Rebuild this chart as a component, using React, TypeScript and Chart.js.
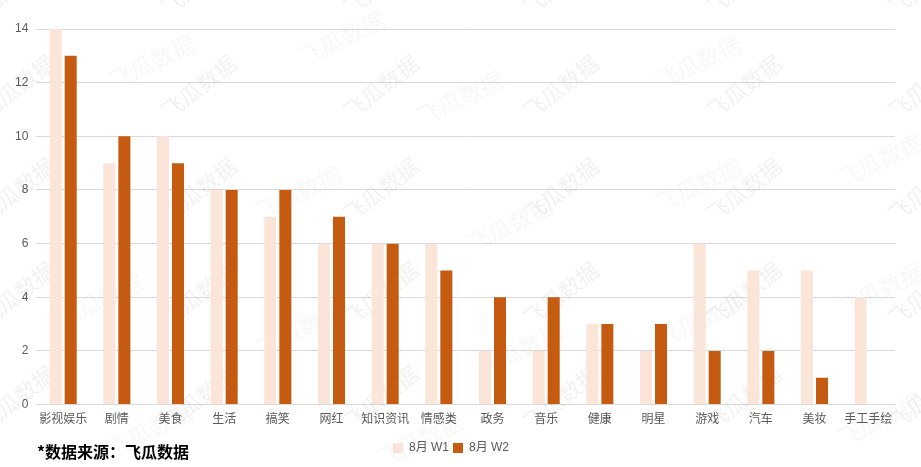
import React, { useEffect, useRef } from "react";
import { Chart, registerables } from "chart.js";

Chart.register(...registerables);

const categories = ["影视娱乐", "剧情", "美食", "生活", "搞笑", "网红", "知识资讯", "情感类", "政务", "音乐", "健康", "明星", "游戏", "汽车", "美妆", "手工手绘"];
const w1Values = [14, 9, 10, 8, 7, 6, 6, 6, 2, 2, 3, 2, 6, 5, 5, 4];
const w2Values = [13, 10, 9, 8, 8, 7, 6, 5, 4, 4, 3, 3, 2, 2, 1, 0];
const seriesNames = ["8月 W1", "8月 W2"];
const sourceText = "*数据来源：飞瓜数据";
const watermarkText = "飞瓜数据";

const FONT = "'Liberation Sans', Arial, 'Noto Sans CJK SC', sans-serif";

const watermarkPlugin = {
  id: "watermark",
  beforeDatasetsDraw(chart: any) {
    const ctx = chart.ctx as CanvasRenderingContext2D;
    ctx.save();
    ctx.textAlign = "center";
    ctx.textBaseline = "middle";
    ctx.font = `22px 'Noto Sans CJK SC', sans-serif`;
    ctx.fillStyle = "rgba(0,0,0,0.055)";
    const colsA = [17, 199, 381, 561, 744, 926];
    const rowsA = [-17, 87, 190, 294, 398];
    for (const x of colsA) {
      for (const y of rowsA) {
        ctx.save();
        ctx.translate(x, y);
        ctx.rotate(-0.66);
        ctx.fillText(watermarkText, 0, 0);
        ctx.restore();
      }
    }
    ctx.fillStyle = "rgba(0,0,0,0.03)";
    ctx.font = `23px 'Noto Sans CJK SC', sans-serif`;
    const ptsB = [[152, 62], [342, 38], [460, 98], [698, 62], [298, 193], [698, 185], [510, 225], [880, 160], [880, 290], [100, 300], [300, 330], [520, 350], [700, 320], [150, 430], [420, 440], [880, 420]];
    for (const [x, y] of ptsB) {
      ctx.save();
      ctx.translate(x, y);
      ctx.rotate(-0.45);
      ctx.fillText(watermarkText, 0, 0);
      ctx.restore();
    }
    ctx.restore();
  },
};

export default function App() {
  const canvasRef = useRef<HTMLCanvasElement | null>(null);

  useEffect(() => {
    document.body.style.margin = "0";
    const canvas = canvasRef.current;
    if (!canvas) return;
    const chart = new Chart(canvas, {
      type: "bar",
      data: {
        labels: categories,
        datasets: [
          {
            label: seriesNames[0],
            data: w1Values,
            backgroundColor: "#FAE5D8",
            barPercentage: 0.8,
            categoryPercentage: 0.56,
          },
          {
            label: seriesNames[1],
            data: w2Values,
            backgroundColor: "#C55A11",
            barPercentage: 0.8,
            categoryPercentage: 0.56,
          },
        ],
      },
      options: {
        animation: false,
        responsive: false,
        maintainAspectRatio: false,
        layout: { padding: { left: 7, right: 26, top: 29, bottom: 3 } },
        plugins: {
          legend: {
            position: "bottom",
            labels: {
              boxWidth: 10,
              boxHeight: 10,
              padding: 4,
              color: "#595959",
              font: { size: 12, family: FONT },
            },
          },
          tooltip: { enabled: false },
        },
        scales: {
          x: {
            grid: { display: false },
            border: { color: "#D9D9D9" },
            ticks: {
              color: "#595959",
              font: { size: 12, family: FONT },
              maxRotation: 0,
              autoSkip: false,
              padding: 0,
            },
            afterFit(scale: any) {
              scale.height += 11;
            },
          },
          y: {
            min: 0,
            max: 14,
            ticks: {
              stepSize: 2,
              color: "#595959",
              font: { size: 12, family: FONT },
              padding: 8,
            },
            grid: { color: "#D9D9D9", drawTicks: false },
            border: { display: false },
          },
        },
      },
      plugins: [watermarkPlugin],
    });
    return () => chart.destroy();
  }, []);

  return (
    <div style={{ position: "relative", width: 921, height: 467, background: "#fff" }}>
      <canvas ref={canvasRef} width={921} height={467} style={{ display: "block", width: 921, height: 467 }} />
      <div
        style={{
          position: "absolute",
          left: 37,
          top: 441,
          fontFamily: "'Noto Sans CJK SC', sans-serif",
          fontWeight: "bold",
          fontSize: 16,
          lineHeight: "20px",
          color: "#000",
        }}
      >
        {sourceText}
      </div>
    </div>
  );
}
